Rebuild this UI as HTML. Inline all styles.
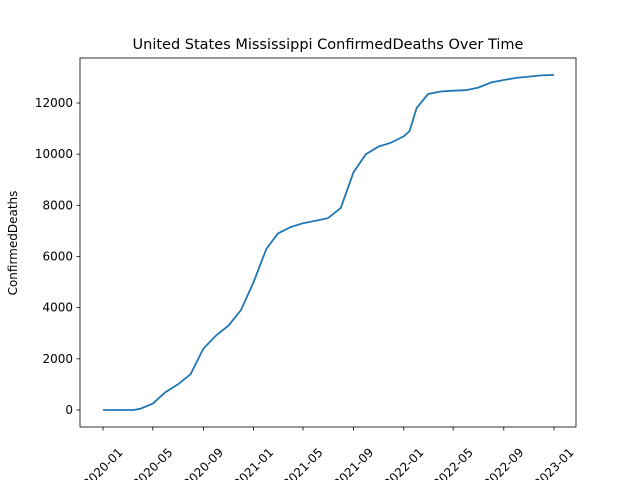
<!DOCTYPE html>
<html><head><meta charset="utf-8"><style>body{margin:0;background:#fff}svg{display:block;font-family:"DejaVu Sans","Liberation Sans",sans-serif}</style></head>
<body>
<svg id="chart" width="640" height="480">
<rect width="640" height="480" fill="#fff"/>
<text x="328" y="49" text-anchor="middle" font-size="14.5">United States Mississippi ConfirmedDeaths Over Time</text>
<text transform="translate(17,243) rotate(-90)" text-anchor="middle" font-size="12">ConfirmedDeaths</text>
<g id="ticks"></g>
<path id="line" fill="none" stroke="#1f77b4" stroke-width="1.8"/>
<rect x="80" y="58" width="496" height="369" fill="none" stroke="#000" stroke-width="0.8"/>
</svg>
<script>
const dates=["2020-01-01","2020-03-15","2020-04-01","2020-05-01","2020-06-01","2020-07-01","2020-08-01","2020-09-01","2020-10-01","2020-11-01","2020-12-01","2021-01-01","2021-02-01","2021-03-01","2021-04-01","2021-05-01","2021-06-01","2021-07-01","2021-08-01","2021-09-01","2021-10-01","2021-11-01","2021-12-01","2022-01-01","2022-01-15","2022-02-01","2022-03-01","2022-04-01","2022-05-01","2022-06-01","2022-07-01","2022-08-01","2022-09-01","2022-10-01","2022-11-01","2022-12-01","2023-01-01"];
const deaths=[0,0,50,250,700,1000,1400,2400,2900,3300,3900,5000,6300,6900,7150,7300,7400,7500,7900,9300,10000,10300,10450,10700,10900,11800,12350,12450,12480,12500,12600,12800,12900,12980,13030,13080,13100];
const yTicks=[0,2000,4000,6000,8000,10000,12000];
const xTicks=["2020-01","2020-05","2020-09","2021-01","2021-05","2021-09","2022-01","2022-05","2022-09","2023-01"];
const t0=Date.parse("2020-01-01"),t1=Date.parse("2023-01-01");
const X=d=>103+(Date.parse(d)-t0)/(t1-t0)*451;
const Y=v=>410-v*(307/12000);
const ns="http://www.w3.org/2000/svg",g=document.getElementById("ticks");
function mk(tag,a){const e=document.createElementNS(ns,tag);for(const k in a)e.setAttribute(k,a[k]);g.appendChild(e);return e;}
yTicks.forEach(v=>{const y=Y(v);
const l=mk("line",{x1:76.5,x2:80,y1:y,y2:y,stroke:"#000","stroke-width":0.8});


const t=mk("text",{x:73,y:y+4,"text-anchor":"end","font-size":12});t.textContent=v;

});
xTicks.forEach(d=>{const x=X(d+"-01");
const l=mk("line",{x1:x,x2:x,y1:427,y2:430.5,stroke:"#000","stroke-width":0.8});


const t=mk("text",{transform:`translate(${x},${468}) rotate(-45)`,"text-anchor":"middle","font-size":12,y:4});t.textContent=d;

});
document.getElementById("line").setAttribute("d",dates.map((d,i)=>(i?"L":"M")+X(d).toFixed(1)+","+Y(deaths[i]).toFixed(1)).join(""));
</script>
</body></html>
